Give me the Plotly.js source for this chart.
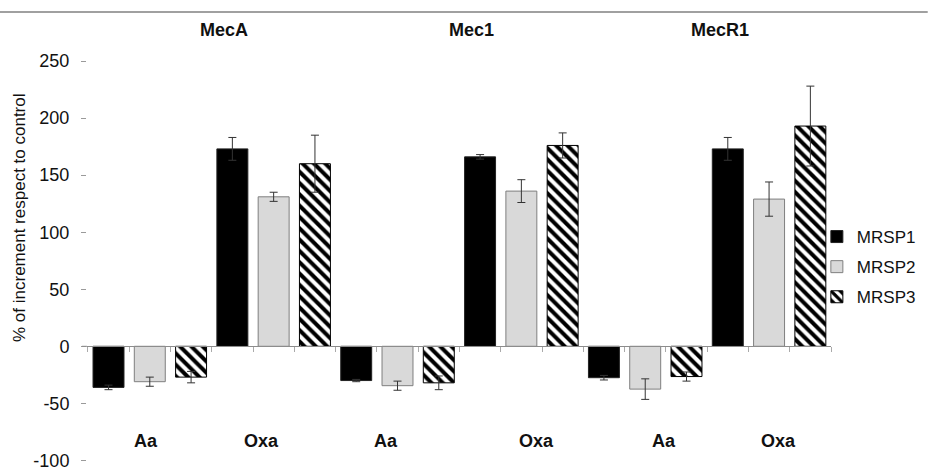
<!DOCTYPE html>
<html>
<head>
<meta charset="utf-8">
<script src="https://cdn.plot.ly/plotly-3.0.1.min.js"></script>
<style>html,body{margin:0;padding:0;background:#fff;}#chart{width:928px;height:471px;}</style>
</head>
<body>
<div id="chart"></div>
<script>
// ---- data ----
const genes = ["MecA", "Mec1", "MecR1"];
const treatments = ["Aa", "Oxa"];
const seriesNames = ["MRSP1", "MRSP2", "MRSP3"];
// order: MecA-Aa, MecA-Oxa, Mec1-Aa, Mec1-Oxa, MecR1-Aa, MecR1-Oxa
const mrsp1 = [-36, 173, -30, 166, -27.5, 173];
const mrsp2 = [-31, 131, -34.5, 136, -37.5, 129];
const mrsp3 = [-27, 160, -32, 176, -26.5, 193];
const mrsp1Err = [2, 10, 1, 2, 2, 10];
const mrsp2Err = [4, 4, 4, 10, 9, 15];
const mrsp3Err = [5, 25, 6, 11, 4, 35];
const yTicks = [-100, -50, 0, 50, 100, 150, 200, 250];

// ---- styling ----
const FONT = "Liberation Sans, Arial, sans-serif";
const Y_RANGE = [-104, 250];
const cats = [];
genes.forEach(g => treatments.forEach(t => cats.push(g + " " + t)));
const xIdx = cats.map((c, i) => i);
const boundaries = [];
for (let i = 0; i <= cats.length * 3; i++) boundaries.push(-0.5 + i / 3);
const zeroFrac = (0 - Y_RANGE[0]) / (Y_RANGE[1] - Y_RANGE[0]);

const errStyle = (arr) => ({type: "data", array: arr, visible: true, color: "#333", thickness: 1, width: 4});

const traces = [
  {type: "bar", name: seriesNames[0], x: xIdx, y: mrsp1, legendgroup: "a",
   marker: {color: "#000000", line: {color: "#222", width: 1}}, error_y: errStyle(mrsp1Err)},
  {type: "bar", name: seriesNames[1], x: xIdx, y: mrsp2, legendgroup: "b",
   marker: {color: "#d9d9d9", line: {color: "#7f7f7f", width: 1}}, error_y: errStyle(mrsp2Err)},
  {type: "bar", name: seriesNames[2], x: xIdx, y: mrsp3, legendgroup: "c",
   marker: {color: "#ffffff", line: {color: "#000", width: 1},
            pattern: {shape: "\\", fgcolor: "#000000", bgcolor: "#ffffff", size: 8, solidity: 0.5}},
   error_y: errStyle(mrsp3Err)}
];

const annotations = [];
const geneNudge = 0.1;
genes.forEach((g, gi) => {
  annotations.push({text: "<b>" + g + "</b>", x: gi * 2 + 0.5 + geneNudge, xref: "x", y: 1.0767, yref: "paper",
    xanchor: "center", yanchor: "middle", showarrow: false, font: {family: FONT, size: 18, color: "#111"}});
});
const treatNudge = [-0.03, -0.10, -0.09, 0.125, 0.15, 0.08];
cats.forEach((c, i) => {
  annotations.push({text: "<b>" + treatments[i % 2] + "</b>", x: i + treatNudge[i], xref: "x", y: 0.0606, yref: "paper",
    xanchor: "center", yanchor: "middle", showarrow: false, font: {family: FONT, size: 18, color: "#111"}});
});
annotations.push({text: "% of increment respect to control", textangle: -90, x: -0.09005, xref: "paper",
  y: 0.6114, yref: "paper", xanchor: "center", yanchor: "middle", showarrow: false,
  font: {family: FONT, size: 17, color: "#111"}});

const layout = {
  width: 928, height: 471,
  margin: {l: 87, r: 97, t: 61, b: 6, pad: 0},
  paper_bgcolor: "#ffffff", plot_bgcolor: "#ffffff",
  barmode: "group", bargap: 0, bargroupgap: 0.25,
  showlegend: true,
  legend: {x: 0.981, xanchor: "left", y: 0.6089, yanchor: "top", traceorder: "grouped", tracegroupgap: 5,
    bgcolor: "rgba(0,0,0,0)", font: {family: FONT, size: 17, color: "#111"}},
  xaxis: {type: "linear", range: [-0.507, 5.5], anchor: "free", position: zeroFrac,
    showline: true, linecolor: "#8c8c8c", linewidth: 1, ticks: "outside", ticklen: 5, tickcolor: "#aaaaaa",
    tickmode: "array", tickvals: boundaries, showticklabels: false, showgrid: false, zeroline: false},
  yaxis: {range: Y_RANGE, tickmode: "array", tickvals: yTicks, ticktext: yTicks.map(String),
    ticks: "outside", ticklen: 5, tickcolor: "#9a9a9a", ticklabelstandoff: 8, ticklabeloverflow: "allow",
    automargin: false, showline: false,
    showgrid: false, zeroline: false, tickfont: {family: FONT, size: 18, color: "#111"}},
  annotations: annotations,
  shapes: [
    {type: "line", xref: "paper", yref: "paper", x0: -0.117, x1: 1.13, y0: 1.1213, y1: 1.1213,
     line: {color: "#808080", width: 1.3}},
    {type: "line", xref: "paper", yref: "y", x0: -0.0068, x1: 0, y0: 0, y1: 0,
     line: {color: "#8c8c8c", width: 1}}
  ]
};

Plotly.newPlot("chart", traces, layout, {displayModeBar: false, staticPlot: true});
</script>
</body>
</html>
